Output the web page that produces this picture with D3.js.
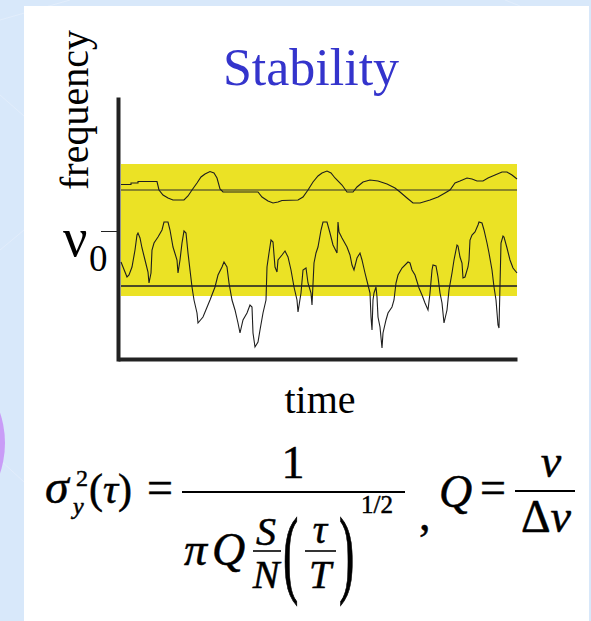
<!DOCTYPE html>
<html>
<head>
<meta charset="utf-8">
<script src="https://cdn.jsdelivr.net/npm/d3@7"></script>
<style>
  html, body { margin: 0; padding: 0; background: #d8e8fa; }
  svg { display: block; }
  text { font-family: "Liberation Serif", "Times New Roman", serif; fill: #000; }
  .it { font-style: italic; }
  .formula text { stroke: #000; stroke-width: 0.5; }
</style>
</head>
<body>
<svg id="chart" width="591" height="621"></svg>
<script>
// Stable oscillator trace: time samples and frequency offsets from nu0
const stableT = [0, 10, 10, 17, 17, 36, 38, 42, 47, 52, 63, 67, 71, 76, 80, 84, 89, 93, 96, 99, 102,
  137, 141, 147, 152, 157, 161, 177, 182, 187, 192, 197, 201, 206, 210, 214, 221, 226, 232, 236,
  242, 249, 257, 266, 274, 279, 286, 292, 299, 309, 317, 324, 329, 334, 339, 346, 351, 356, 362,
  367, 374, 381, 386, 391, 396];
const stableF = [46.5, 46.5, 48, 48, 49.5, 49.5, 41, 36, 33, 31, 31, 35, 41, 48, 54, 57, 59.5, 58, 53, 42, 39,
  39, 34, 30, 28, 29, 30.5, 31, 34, 41, 49, 55, 58, 60, 58, 53, 46, 39, 39, 44,
  49, 51, 50, 47, 43, 39, 33, 28, 28, 31, 34, 38, 41, 48, 50, 53, 52, 50, 50,
  53, 56, 59, 59, 56, 52];

// Noisy oscillator trace
const noisyT = [0, 2, 6, 8, 11, 14, 16, 17, 19, 21, 24, 27, 28, 30, 31, 33, 37, 41, 43, 47, 49, 52, 56, 57,
  59, 61, 63, 65, 67, 71, 73, 76, 77, 82, 89, 94, 97, 101, 103, 106, 108, 111, 114, 117, 119, 122,
  126, 129, 131, 132, 134, 137, 139, 142, 145, 146, 148, 150, 152, 154, 156, 157, 161, 164, 167,
  170, 173, 176, 177, 180, 182, 185, 187, 190, 191, 193, 195, 197, 200, 202, 206, 209, 212, 216,
  217, 218, 221, 226, 229, 231, 233, 236, 239, 241, 244, 247, 249, 250, 251, 252, 253, 255, 256,
  257, 259, 261, 262, 265, 267, 271, 273, 275, 277, 281, 287, 289, 291, 294, 298, 301, 304, 307,
  309, 311, 312, 315, 317, 319, 321, 323, 326, 328, 331, 333, 336, 337, 339, 341, 342, 344, 347,
  348, 349, 351, 354, 357, 358, 361, 363, 366, 368, 371, 373, 375, 377, 378, 380, 382, 383, 386,
  389, 392, 396];
const noisyF = [-31, -36, -46, -44, -36, -19, -4, -2, -7, -17, -29, -41, -52, -42, -19, -12, -6, 1, 9, 9, 1, -16, -29, -42,
  -29, -12, 0, -2, -22, -56, -69, -82, -92, -86, -69, -56, -44, -36, -31, -36, -52, -69, -79, -92, -102, -89,
  -82, -74, -76, -102, -116, -111, -99, -82, -69, -36, -22, -9, -11, -36, -41, -29, -24, -20, -26,
  -39, -56, -69, -81, -62, -39, -37, -52, -62, -74, -32, -22, -16, 1, 9, 9, -2, -14, -22,
  9, -1, -7, -16, -24, -34, -39, -27, -22, -29, -42, -54, -62, -86, -99, -69, -62, -56, -66,
  -86, -96, -117, -102, -89, -82, -76, -69, -52, -44, -37, -31, -32, -39, -44, -57, -64, -72, -79,
  -62, -39, -34, -35, -46, -62, -72, -92, -79, -59, -42, -29, -14, -15, -26, -32, -47, -46, -36,
  -29, -9, -4, -1, 6, 9, 8, 1, -12, -22, -39, -56, -69, -94, -97, -12, -5, -6, -17,
  -29, -37, -42];

// Reference levels and tolerance band (frequency offsets)
const bandLimits = [-65, 67];
const stableRef = 41;
const noisyRef = -55;
const nu0 = 0;

const svg = d3.select("#chart");
const W = 591, H = 621;

// slide backdrop
svg.append("rect").attr("width", W).attr("height", H).attr("fill", "#d8e8fa");
const deco = svg.append("g").attr("stroke", "#e2edfb").attr("stroke-width", 1);
[[0, 20, 70, 0], [0, 95, 40, 130], [0, 460, 24, 482], [505, 0, 520, 6], [0, 250, 24, 230]]
  .forEach(d => deco.append("line").attr("x1", d[0]).attr("y1", d[1]).attr("x2", d[2]).attr("y2", d[3]));
svg.append("circle").attr("cx", -90).attr("cy", 443).attr("r", 95).attr("fill", "#c99cf7");
svg.append("rect").attr("x", 24).attr("y", 6).attr("width", 565).attr("height", H - 6).attr("fill", "#fff");

const x = d3.scaleLinear().domain([-3, 396]).range([118, 517]);
const y = d3.scaleLinear().domain([-130, 134]).range([361, 97]);

// tolerance band
svg.append("rect")
  .attr("x", x(0)).attr("width", x(396) - x(0))
  .attr("y", y(bandLimits[1])).attr("height", y(bandLimits[0]) - y(bandLimits[1]))
  .attr("fill", "#ebe225");

// reference levels
svg.append("line").attr("x1", x(0)).attr("x2", x(396))
  .attr("y1", y(stableRef)).attr("y2", y(stableRef))
  .attr("stroke", "#2c2c30").attr("stroke-width", 1.2);
svg.append("line").attr("x1", x(0)).attr("x2", x(396))
  .attr("y1", y(noisyRef)).attr("y2", y(noisyRef))
  .attr("stroke", "#4c4a26").attr("stroke-width", 1.8);

const line = d3.line().x(d => x(d[0])).y(d => y(d[1]));
svg.append("path").datum(d3.zip(stableT, stableF)).attr("d", line)
  .attr("fill", "none").attr("stroke", "#1e1e1e").attr("stroke-width", 1.1);
svg.append("path").datum(d3.zip(noisyT, noisyF)).attr("d", line)
  .attr("fill", "none").attr("stroke", "#1e1e1e").attr("stroke-width", 1.1);

// axes
const yAxis = svg.append("g").attr("transform", `translate(${x(-3)},0)`)
  .call(d3.axisLeft(y).tickValues([nu0]).tickSize(17).tickSizeOuter(0).tickFormat(""));
yAxis.select(".domain").attr("stroke", "#222").attr("stroke-width", 4);
yAxis.selectAll(".tick line").attr("stroke", "#222").attr("stroke-width", 1);

const xAxis = svg.append("g").attr("transform", `translate(0,${y(-128)})`)
  .call(d3.axisBottom(x).tickValues([]).tickSizeOuter(0));
xAxis.select(".domain").attr("stroke", "#222").attr("stroke-width", 4);

// labels
svg.append("text").attr("x", 311).attr("y", 85).attr("text-anchor", "middle")
  .attr("font-size", 52).style("fill", "#3434cc").text("Stability");
svg.append("text").attr("transform", "translate(88,110) rotate(-90)").attr("text-anchor", "middle")
  .attr("font-size", 40).text("frequency");
svg.append("text").attr("x", 63).attr("y", 256).attr("font-size", 54).text("ν");
svg.append("text").attr("x", 89).attr("y", 271).attr("font-size", 37).text("0");
svg.append("text").attr("x", 320).attr("y", 413).attr("text-anchor", "middle")
  .attr("font-size", 40).text("time");

// Allan variance formula
const f = svg.append("g").attr("class", "formula");
const t = (xx, yy, s, size, cls, anchor) => f.append("text").attr("x", xx).attr("y", yy)
  .attr("font-size", size).attr("class", cls || null).attr("text-anchor", anchor || "start").text(s);
const bar = (x1, x2, yy, w) => f.append("line").attr("x1", x1).attr("x2", x2).attr("y1", yy).attr("y2", yy)
  .attr("stroke", "#000").attr("stroke-width", w);

t(45, 503, "σ", 48, "it");
t(76, 486, "2", 24);
t(73, 514, "y", 24, "it");
const p = f.append("text").attr("x", 89).attr("y", 503).attr("font-size", 42);
p.append("tspan").text("(");
p.append("tspan").attr("class", "it").text("τ");
p.append("tspan").text(")");
t(147, 503, "=", 46);
bar(182, 405, 492, 2);
t(293, 478, "1", 46, null, "middle");
t(184, 565, "π", 46, "it");
t(212, 565, "Q", 46, "it");
t(266, 545, "S", 40, "it", "middle");
bar(253, 281, 551, 1.6);
t(266, 588, "N", 40, "it", "middle");
f.append("text").attr("transform", "translate(283,585) scale(1,2.1)").attr("font-size", 46).text("(");
t(320, 543, "τ", 40, "it", "middle");
bar(305, 336, 551, 1.6);
t(320, 588, "T", 40, "it", "middle");
f.append("text").attr("transform", "translate(339,585) scale(1,2.1)").attr("font-size", 46).text(")");
t(361, 513, "1/2", 25);
t(419, 530, ",", 46);
t(439, 507, "Q", 46, "it");
t(480, 503, "=", 46);
bar(515, 575, 491, 2);
t(551, 477, "ν", 46, "it", "middle");
const dn = f.append("text").attr("x", 546).attr("y", 532).attr("font-size", 46).attr("text-anchor", "middle");
dn.append("tspan").text("Δ");
dn.append("tspan").attr("class", "it").text("ν");
</script>
</body>
</html>
